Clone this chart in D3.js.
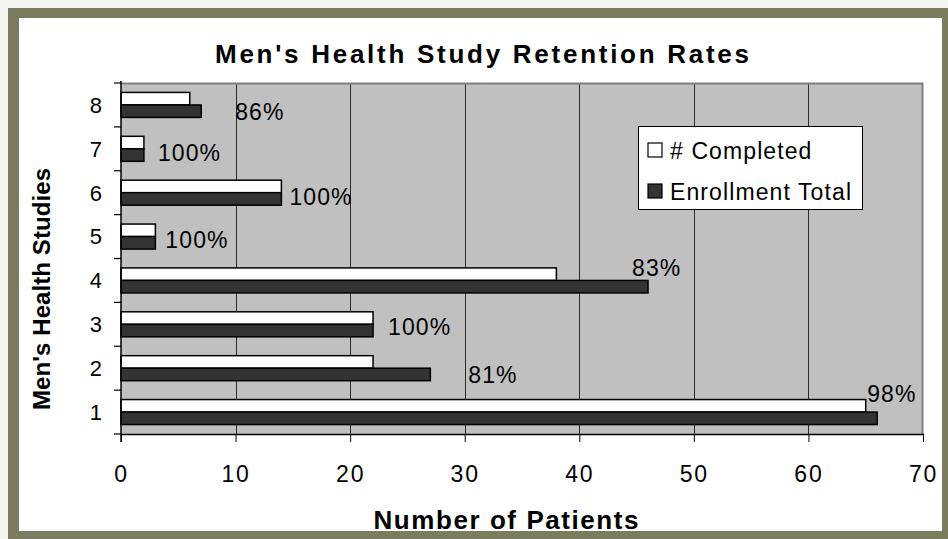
<!DOCTYPE html>
<html>
<head>
<meta charset="utf-8">
<script src="https://cdn.jsdelivr.net/npm/d3@7"></script>
<style>
  html, body { margin: 0; padding: 0; background: #f3f3ef; }
  svg { display: block; }
  text { font-family: "Liberation Sans", Arial, sans-serif; fill: #000; }
</style>
</head>
<body>
<svg id="chart" width="948" height="539"></svg>
<script>
const studies = ["1", "2", "3", "4", "5", "6", "7", "8"];
const completed = [65, 22, 22, 38, 3, 14, 2, 6];
const enrolled = [66, 27, 22, 46, 3, 14, 2, 7];
const rateLabels = ["98%", "81%", "100%", "83%", "100%", "100%", "100%", "86%"];
const xTicks = [0, 10, 20, 30, 40, 50, 60, 70];
const seriesNames = ["# Completed", "Enrollment Total"];

// hand placed label offsets (px) from the end of the enrollment bar, like the original
const labelNudge = [[-10, -10], [38, 15], [15, 11], [-16, -4], [10, 11], [8, 12], [14, 12], [34, 15]];

const FILL = { "# Completed": "#ffffff", "Enrollment Total": "#333333" };

const W = 948, H = 539;
const svg = d3.select("#chart");

// outer frame
svg.append("rect").attr("x", 8).attr("y", 8).attr("width", W - 8).attr("height", H - 8).attr("fill", "#7b7b5f");
svg.append("rect").attr("x", 19).attr("y", 18).attr("width", 942 - 19).attr("height", 531 - 18).attr("fill", "#ffffff");

const margin = { top: 83, right: 25, bottom: 105, left: 121 };
const innerW = W - margin.left - margin.right;
const innerH = H - margin.top - margin.bottom;
const root = svg.append("g").attr("transform", `translate(${margin.left},${margin.top})`);

const x = d3.scaleLinear().domain([0, 70]).range([0, innerW]);
const yCat = d3.scaleBand().domain(studies.slice().reverse()).range([0, innerH]).padding(0);
const ySer = d3
  .scaleBand()
  .domain(seriesNames)
  .range([yCat.bandwidth() * 0.215, yCat.bandwidth() * 0.785]);

root.append("rect").attr("width", innerW).attr("height", innerH).attr("fill", "#c0c0c0");

// vertical gridlines
root
  .append("g")
  .selectAll("line")
  .data(xTicks.filter((t) => t > 0 && t < 70))
  .join("line")
  .attr("x1", (d) => Math.round(x(d)) + 0.5)
  .attr("x2", (d) => Math.round(x(d)) + 0.5)
  .attr("y1", 0)
  .attr("y2", innerH)
  .attr("stroke", "#2a2a2a")
  .attr("stroke-width", 1);

// plot border (top/right in grey)
root.append("path")
  .attr("d", `M0,0.5H${innerW - 0.5}V${innerH}`)
  .attr("fill", "none")
  .attr("stroke", "#808080")
  .attr("stroke-width", 2);

const rows = studies.map((s, i) => ({ study: s, i, values: [completed[i], enrolled[i]] }));

const groups = root
  .append("g")
  .selectAll("g.study")
  .data(rows)
  .join("g")
  .attr("class", "study")
  .attr("transform", (d) => `translate(0,${yCat(d.study)})`);

groups
  .selectAll("rect")
  .data((d) => seriesNames.map((name, k) => ({ name, value: d.values[k] })))
  .join("rect")
  .attr("x", 0)
  .attr("y", (d) => ySer(d.name))
  .attr("width", (d) => x(d.value))
  .attr("height", ySer.bandwidth())
  .attr("fill", (d) => FILL[d.name])
  .attr("stroke", "#000")
  .attr("stroke-width", 1.5);

// percent labels
root
  .append("g")
  .selectAll("text")
  .data(rows)
  .join("text")
  .attr("x", (d) => x(enrolled[d.i]) + labelNudge[d.i][0])
  .attr("y", (d) => yCat(d.study) + yCat.bandwidth() / 2 + labelNudge[d.i][1])
  .attr("font-size", 23)
  .attr("letter-spacing", 1.1)
  .text((d) => rateLabels[d.i]);

// x axis
const gx = root
  .append("g")
  .attr("transform", `translate(0,${innerH})`)
  .call(d3.axisBottom(x).tickValues(xTicks).tickSize(8).tickSizeOuter(0));
gx.select(".domain").attr("stroke", "#000").attr("stroke-width", 1.5);
gx.selectAll(".tick line").attr("stroke", "#000");
gx.selectAll(".tick text")
  .attr("y", 48)
  .attr("dy", null)
  .attr("font-size", 23)
  .attr("letter-spacing", 1.8)
  .attr("font-family", "Liberation Sans, Arial, sans-serif");

// y axis: labels at band centres, tick marks between categories
const gy = root.append("g").call(d3.axisLeft(yCat).tickSize(0).tickPadding(19));
gy.select(".domain").remove();
gy.selectAll(".tick text")
  .attr("dy", "0.36em")
  .attr("font-size", 22)
  .attr("font-family", "Liberation Sans, Arial, sans-serif");

root.append("line")
  .attr("x1", 0).attr("x2", 0)
  .attr("y1", -2).attr("y2", innerH + 8)
  .attr("stroke", "#000").attr("stroke-width", 1.5);

root
  .append("g")
  .selectAll("line")
  .data(studies.map((s) => yCat(s)).concat([innerH]))
  .join("line")
  .attr("x1", -7)
  .attr("x2", 0)
  .attr("y1", (d) => d)
  .attr("y2", (d) => d)
  .attr("stroke", "#000")
  .attr("stroke-width", 1.2);

// titles
svg.append("text")
  .attr("x", 482)
  .attr("y", 63)
  .attr("text-anchor", "middle")
  .attr("font-size", 26)
  .attr("font-weight", "bold")
  .attr("textLength", 534)
  .attr("lengthAdjust", "spacing")
  .text("Men's Health Study Retention Rates");

svg.append("text")
  .attr("x", 506)
  .attr("y", 529)
  .attr("text-anchor", "middle")
  .attr("font-size", 26)
  .attr("font-weight", "bold")
  .attr("textLength", 265)
  .attr("lengthAdjust", "spacing")
  .text("Number of Patients");

svg.append("text")
  .attr("transform", "translate(50,289) rotate(-90)")
  .attr("text-anchor", "middle")
  .attr("font-size", 24)
  .attr("font-weight", "bold")
  .attr("textLength", 242)
  .attr("lengthAdjust", "spacing")
  .text("Men's Health Studies");

// legend
const legend = svg.append("g").attr("transform", "translate(638,126)");
legend.append("rect")
  .attr("x", 0.5).attr("y", 0.5)
  .attr("width", 224).attr("height", 83)
  .attr("fill", "#fff").attr("stroke", "#000");

const items = legend
  .selectAll("g.item")
  .data(seriesNames)
  .join("g")
  .attr("class", "item")
  .attr("transform", (d, i) => `translate(10,${17 + i * 41})`);

items.append("rect")
  .attr("width", 14).attr("height", 14)
  .attr("fill", (d) => FILL[d])
  .attr("stroke", "#000")
  .attr("stroke-width", 1.2);

items.append("text")
  .attr("x", 22)
  .attr("y", 16)
  .attr("font-size", 23)
  .attr("letter-spacing", 1.1)
  .text((d) => d);
</script>
</body>
</html>
